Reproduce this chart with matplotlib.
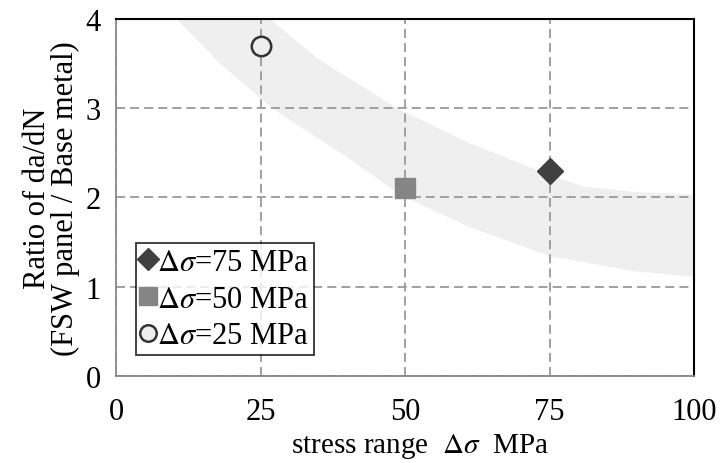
import numpy as np
import matplotlib.pyplot as plt

plt.rcParams['font.family'] = ['Liberation Serif', 'DejaVu Serif']
plt.rcParams['mathtext.fontset'] = 'stix'

# scatter points: stress range vs ratio of da/dN
stress = [75, 50, 25]
ratio = [2.3, 2.1, 3.7]
labels = [r'$\mathit{\Delta\sigma}$=75 MPa', r'$\mathit{\Delta\sigma}$=50 MPa', r'$\mathit{\Delta\sigma}$=25 MPa']

# shaded scatter band (upper and lower edges)
band_up_x = [18, 26.6, 35, 48.6, 60.7, 75, 81, 90, 100]
band_up_y = [4.6, 4.0, 3.55, 3.0, 2.62, 2.25, 2.12, 2.06, 2.03]
band_lo_x = [5, 10.5, 18, 27.2, 40, 49.1, 60.7, 75.1, 90, 100]
band_lo_y = [4.4, 4.0, 3.5, 2.99, 2.45, 2.03, 1.68, 1.34, 1.17, 1.11]

fig = plt.figure(figsize=(7.21, 4.64), dpi=100)
ax = fig.add_axes([0.1609, 0.188, 0.8017, 0.769])

poly_x = band_up_x + band_lo_x[::-1]
poly_y = band_up_y + band_lo_y[::-1]
ax.fill(poly_x, poly_y, color='#efefef', lw=0, zorder=1)

ax.set_xlim(0, 100)
ax.set_ylim(0, 4)
ax.set_xticks([0, 25, 50, 75, 100])
ax.set_yticks([0, 1, 2, 3, 4])
ax.grid(True, ls=(0, (5, 2.8)), color='#999999', lw=1.3, zorder=2)
ax.set_axisbelow(False)
ax.tick_params(length=0, labelsize=22)
ax.tick_params(axis='x', pad=15)
ax.tick_params(axis='y', pad=11)

for s in ['left', 'bottom']:
    ax.spines[s].set_color('#888888')
    ax.spines[s].set_linewidth(1.3)
for s in ['top', 'right']:
    ax.spines[s].set_color('black')
    ax.spines[s].set_linewidth(1.5)
for s in ax.spines.values():
    s.set_zorder(4)

ax.plot(stress[0], ratio[0], 'D', ms=13, color='#404040', mec='#404040', ls='none', label=labels[0], zorder=5)
ax.plot(stress[1], ratio[1], 's', ms=14.5, color='#858585', mec='#858585', ls='none', label=labels[1], zorder=5)
ax.plot(stress[2], ratio[2], 'o', ms=14, mfc='#eeeeee', mec='#333333', mew=1.8, ls='none', label=labels[2], zorder=5)

leg = ax.legend(loc='lower left', bbox_to_anchor=(0.0346, 0.058), fontsize=22, frameon=True,
                fancybox=False, edgecolor='black', handlelength=0.5, handletextpad=0.05,
                borderpad=0.15, labelspacing=0.26, markerscale=0.85, borderaxespad=0)
leg.get_frame().set_linewidth(1.3)
leg.set_zorder(6)

ax.set_xlabel('stress range  $\\mathit{\\Delta\\sigma}$  MPa', fontsize=21, labelpad=4, x=0.526)
ax.set_ylabel('Ratio of da/dN\n(FSW panel / Base metal)', fontsize=22, labelpad=4, linespacing=0.95)

fig.savefig('out.png', dpi=100)
